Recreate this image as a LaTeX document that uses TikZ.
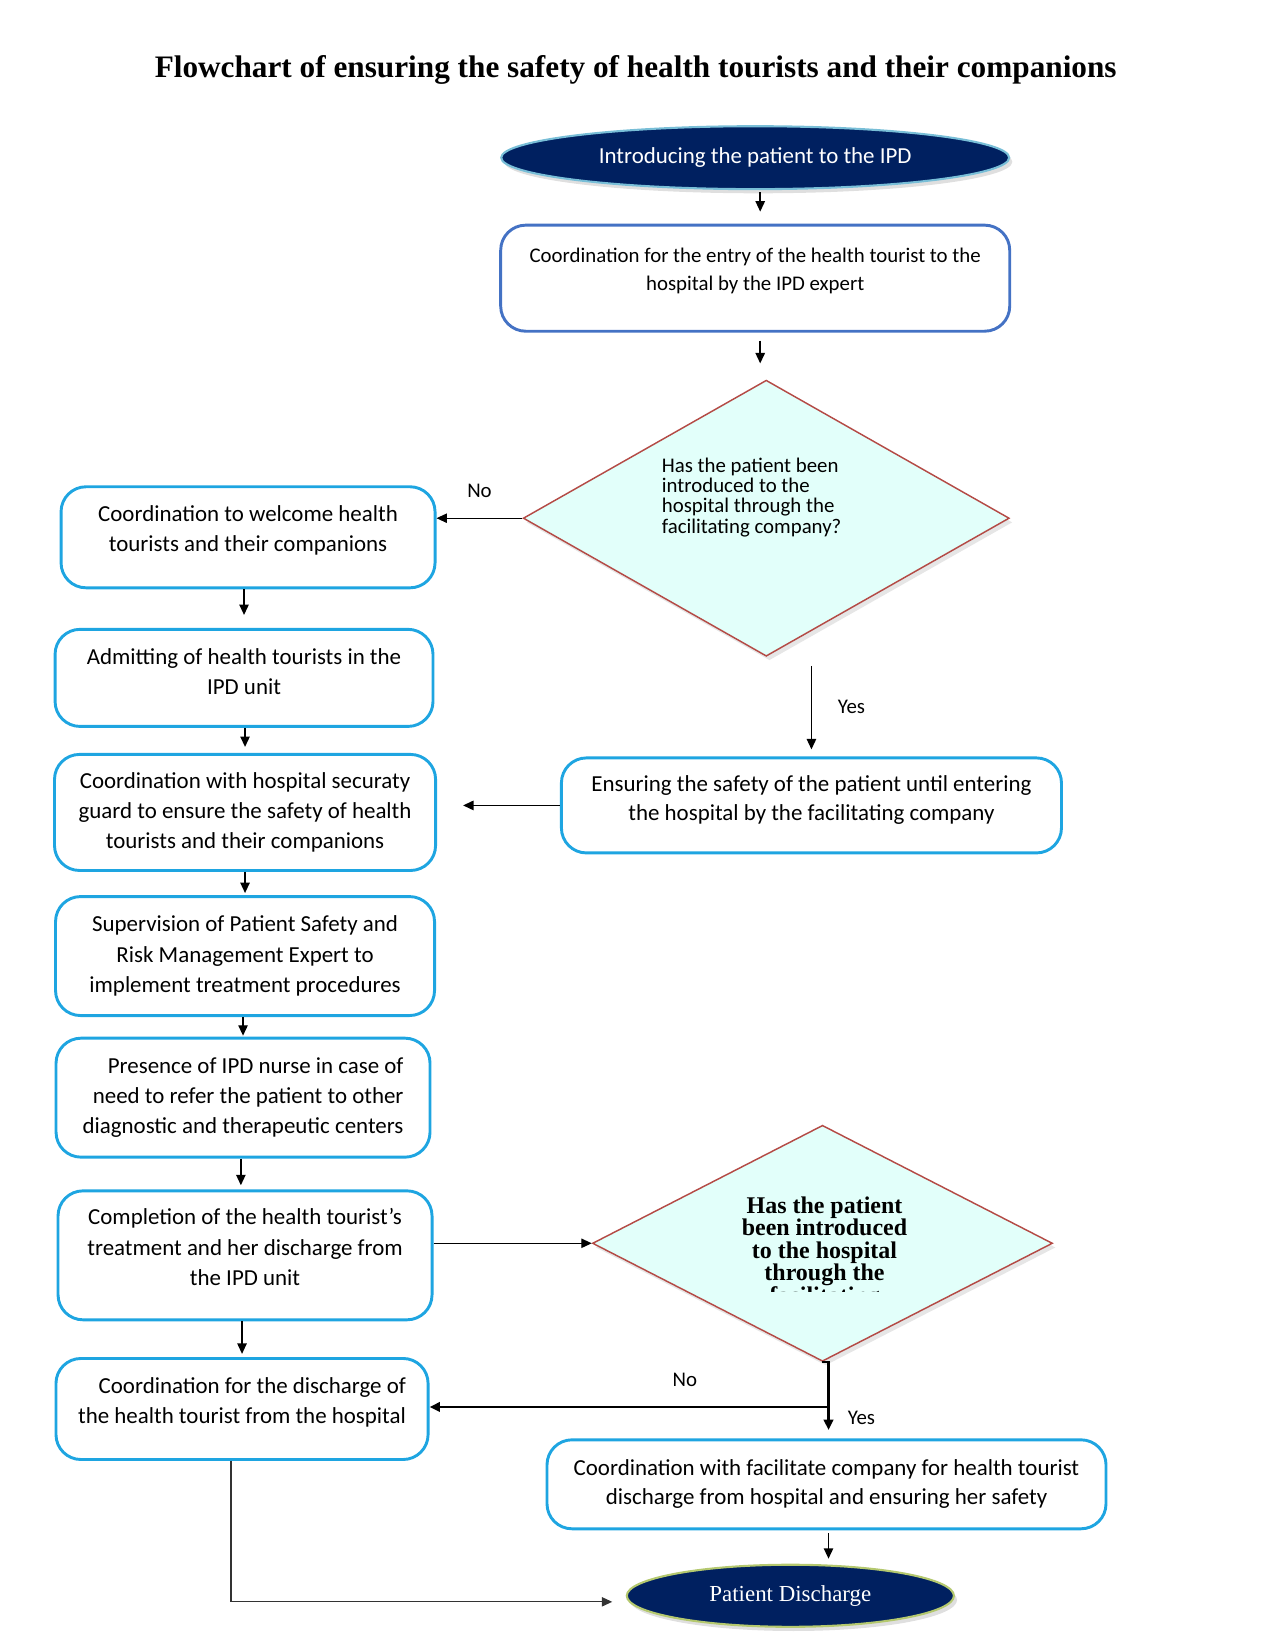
\documentclass[tikz,border=0pt]{standalone}
\usepackage{fontspec}
\setmainfont{Carlito}
\newfontfamily\timesfont{Liberation Serif}
\usetikzlibrary{shapes.geometric,arrows.meta,shadows}
\definecolor{navy}{RGB}{0,32,96}
\definecolor{boxblue}{RGB}{30,165,225}
\definecolor{entryblue}{RGB}{68,114,196}
\definecolor{qborder}{RGB}{180,75,70}
\definecolor{qfill}{RGB}{226,255,250}
\definecolor{startrim}{RGB}{120,190,215}
\definecolor{endrim}{RGB}{180,200,110}
\tikzset{
  stepbox/.style={draw=boxblue, line width=1.4pt, rounded corners=12pt,
    align=center, font=\fontsize{11}{14.5}\selectfont},
  terminal/.style={ellipse, fill=navy, text=white, line width=1pt,
    drop shadow={opacity=0.25, shadow xshift=1.5pt, shadow yshift=-2pt}},
  question/.style={diamond, draw=qborder, fill=qfill, line width=0.7pt, inner sep=0pt,
    drop shadow={opacity=0.2, shadow xshift=1.5pt, shadow yshift=-2pt}},
  arr/.style={-{Triangle[length=5pt,width=4.5pt]}, line width=0.7pt},
  tag/.style={font=\fontsize{10}{12}\selectfont}
}
\begin{document}
\begin{tikzpicture}[x=0.482pt,y=-0.482pt]
  \useasboundingbox (0,0) rectangle (1270,1643);
  \node[font=\timesfont\bfseries\fontsize{15}{18}\selectfont] (title) at (633,70)
    {Flowchart of ensuring the safety of health tourists and their companions};
  \node[terminal, draw=startrim, minimum width=243.8pt, minimum height=30.2pt,
    font=\fontsize{11}{13}\selectfont] (start) at (752,157) {Introducing the patient to the IPD};
  \node[stepbox, draw=entryblue, minimum width=244.3pt, minimum height=50.9pt, text depth=9pt,
    font=\fontsize{10}{13.4}\selectfont] (entry) at (752,277)
    {Coordination for the entry of the health tourist to the\\hospital by the IPD expert};
  \node[question, minimum width=233.3pt, minimum height=132.5pt,
    label={[xshift=-7pt, yshift=10pt, align=left, font=\fontsize{10}{9.7}\selectfont]center:Has the patient been\\introduced to the\\hospital through the\\facilitating company?}]
    (q1) at (763,516) {};
  \node[stepbox, minimum width=179.5pt, minimum height=48.5pt, text depth=8.4pt] (welcome) at (247,535)
    {Coordination to welcome health\\tourists and their companions};
  \node[stepbox, minimum width=181.4pt, minimum height=46.6pt, text depth=6pt] (admit) at (243,675)
    {Admitting of health tourists in the\\IPD unit};
  \node[stepbox, minimum width=182.9pt, minimum height=55.7pt] (guard) at (244,809)
    {Coordination with hospital securaty\\guard to ensure the safety of health\\tourists and their companions};
  \node[stepbox, minimum width=181.9pt, minimum height=57.1pt] (supervise) at (244,952)
    {Supervision of Patient Safety and\\Risk Management Expert to\\implement treatment procedures};
  \node[stepbox, align=right, minimum width=179.5pt, minimum height=57.1pt] (nurse) at (242,1093)
    {Presence of IPD nurse in case of\\need to refer the patient to other\\diagnostic and therapeutic centers};
  \node[stepbox, minimum width=179.5pt, minimum height=61.9pt, text depth=8pt] (complete) at (244,1250)
    {Completion of the health tourist’s\\treatment and her discharge from\\the IPD unit};
  \node[stepbox, align=right, minimum width=178.6pt, minimum height=48.5pt, text depth=8.4pt] (leave) at (241,1403)
    {Coordination for the discharge of\\the health tourist from the hospital};
  \node[stepbox, minimum width=240pt, minimum height=45.6pt, text depth=7.2pt,
    font=\fontsize{11}{14}\selectfont] (escort) at (808,802)
    {Ensuring the safety of the patient until entering\\the hospital by the facilitating company};
  \node[question, minimum width=220.8pt, minimum height=113.3pt] (q2) at (819,1238) {};
  \begin{scope}
    \clip (590,1150) rectangle (1050,1286);
    \node[anchor=north, inner sep=0pt, align=center,
      font=\timesfont\bfseries\fontsize{11.5}{10.8}\selectfont] (q2text) at (821,1191)
      {Has the patient\\been introduced\\to the hospital\\through the\\facilitating};
  \end{scope}
  \node[stepbox, minimum width=268.3pt, minimum height=42.7pt,
    font=\fontsize{11}{14}\selectfont] (handover) at (823,1478)
    {Coordination with facilitate company for health tourist\\discharge from hospital and ensuring her safety};
  \node[terminal, draw=endrim, minimum width=157pt, minimum height=29.8pt,
    font=\timesfont\fontsize{11}{13}\selectfont] (finish) at (787,1589) {Patient Discharge};
  \coordinate (split) at (825,1401);
  \draw[arr, shorten <=1pt, shorten >=5.8pt] ([xshift=2.4pt]start.south) -- ([xshift=2.4pt]entry.north);
  \draw[arr, shorten <=3.8pt, shorten >=7.7pt] ([xshift=2.4pt]entry.south) -- ([xshift=2.4pt]entry.south |- q1.north);
  \draw[arr, line width=0.6pt] (q1.west) -- (q1.west -| welcome.east) node[tag, midway, above=6pt] {No};
  \draw[arr, shorten <=4.3pt, shorten >=3.4pt] (q1.south -| escort.north) -- (escort.north)
    node[tag, midway, right=9pt] {Yes};
  \draw[arr, shorten >=12.5pt] (escort.west) -- (escort.west -| guard.east);
  \draw[arr, shorten >=6.2pt] (admit.north |- welcome.south) -- (admit.north);
  \draw[arr, shorten >=2.9pt] (guard.north |- admit.south) -- (guard.north);
  \draw[arr, shorten >=1pt] (supervise.north |- guard.south) -- (supervise.north);
  \draw[arr, shorten >=0.5pt] (nurse.north |- supervise.south) -- (nurse.north);
  \draw[arr, shorten >=2pt] ([xshift=-2pt]complete.north |- nurse.south) -- ([xshift=-2pt]complete.north);
  \draw[arr, line width=0.6pt, shorten >=1.5pt] (leave.north |- complete.south) -- (leave.north);
  \draw[arr, line width=0.6pt] (complete.east |- q2.west) -- (q2.west);
  \draw[line width=1.3pt] (q2.south) -| (split);
  \draw[arr, line width=1.3pt] (split) -- (leave.east |- split) node[tag, pos=0.36, above=6pt] {No};
  \draw[arr, line width=1.3pt, shorten >=4pt] (split) -- (split |- handover.north)
    node[tag, pos=0.35, right=5.3pt] {Yes};
  \draw[arr, shorten <=1.5pt, shorten >=2.4pt] (handover.south -| split) -- (finish.north -| split);
  \draw[arr, line width=0.5pt, black!80, shorten >=6.5pt] ([xshift=-5.3pt]leave.south) |- ([yshift=-2.9pt]finish.west);
\end{tikzpicture}
\end{document}
